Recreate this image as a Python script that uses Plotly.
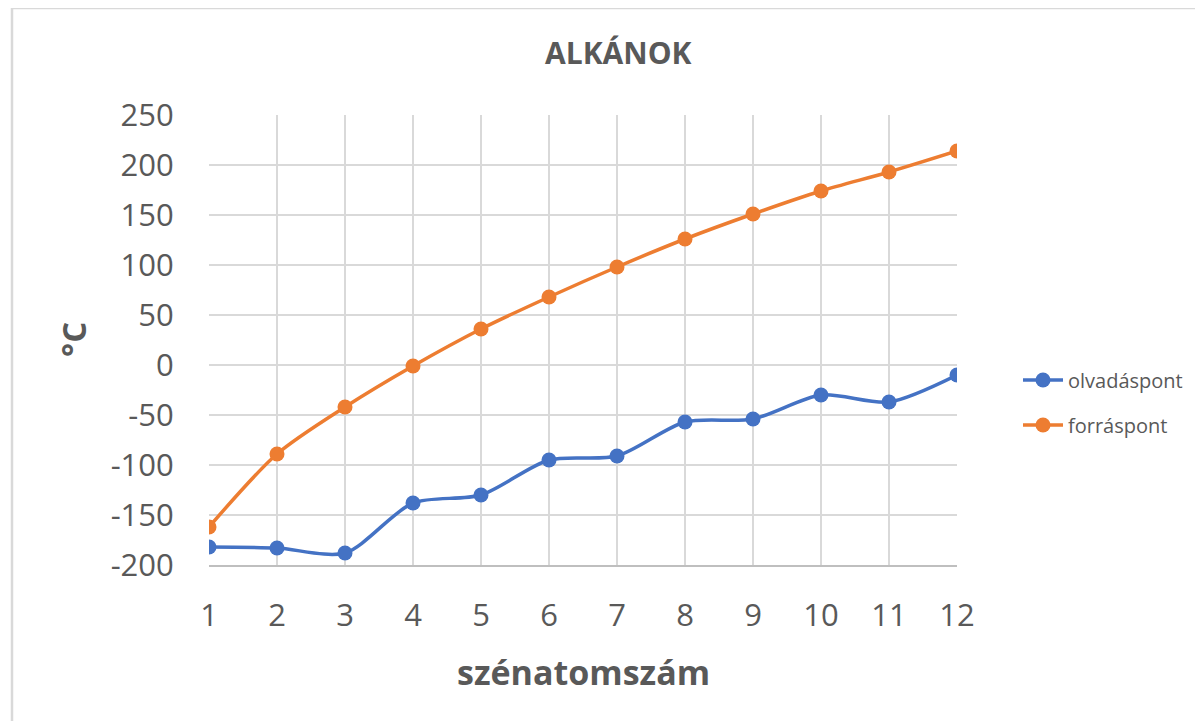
import plotly.graph_objects as go

carbon_atoms = [1, 2, 3, 4, 5, 6, 7, 8, 9, 10, 11, 12]
melting_point = [-182, -183, -188, -138, -130, -95, -91, -57, -54, -30, -37, -10]
boiling_point = [-162, -89, -42, -1, 36, 68, 98, 126, 151, 174, 193, 214]
y_ticks = [-200, -150, -100, -50, 0, 50, 100, 150, 200, 250]
y_tick_labels = ["-200", "-150", "-100", "-50", "0", "50", "100", "150", "200", "250"]

OFF = 8  # page body margin
W, H = 1203 - OFF, 721 - OFF
L, R, T, B = 209 - OFF, 957 - OFF, 115 - OFF, 565 - OFF
pw, ph = R - L, B - T

def px(x):
    return (x - OFF - L) / pw

def py(y):
    return (B - (y - OFF)) / ph

FONT = "Open Sans"
GRAY = "#595959"

fig = go.Figure()
fig.add_trace(go.Scatter(
    x=carbon_atoms, y=melting_point, name="olvadáspont", legend="legend",
    mode="lines+markers", line=dict(color="#4472C4", width=3.5, shape="spline", smoothing=0.8),
    marker=dict(size=15, color="#4472C4"),
))
fig.add_trace(go.Scatter(
    x=carbon_atoms, y=boiling_point, name="forráspont", legend="legend2",
    mode="lines+markers", line=dict(color="#ED7D31", width=3.5, shape="spline", smoothing=0.8),
    marker=dict(size=15, color="#ED7D31"),
))

leg_common = dict(xanchor="left", yanchor="middle",
                  font=dict(size=20, color=GRAY, family=FONT),
                  itemwidth=40, bgcolor="rgba(0,0,0,0)")

fig.update_layout(
    width=W, height=H,
    margin=dict(l=L, r=W - R, t=T, b=H - B),
    paper_bgcolor="white", plot_bgcolor="white",
    font=dict(family=FONT, color=GRAY),
    showlegend=True,
    legend=dict(x=px(1018), y=py(380), **leg_common),
    legend2=dict(x=px(1018), y=py(425), **leg_common),
    xaxis=dict(range=[1, 12], tickvals=carbon_atoms, showgrid=True, gridcolor="#d9d9d9",
               gridwidth=2, zeroline=False, showline=True, linecolor="#bfbfbf", linewidth=2,
               tickfont=dict(size=31, color=GRAY, family=FONT), ticks="outside",
               ticklen=22, tickcolor="rgba(0,0,0,0)"),
    yaxis=dict(range=[-200, 250], tickvals=y_ticks, ticktext=y_tick_labels, showgrid=True,
               gridcolor="#d9d9d9", gridwidth=2, zeroline=False, showline=False,
               tickfont=dict(size=31, color=GRAY, family=FONT), ticks="outside",
               ticklen=28, tickcolor="rgba(0,0,0,0)"),
    shapes=[dict(type="rect", xref="paper", yref="paper",
                 x0=px(12), x1=px(1220), y0=py(740), y1=py(8),
                 line=dict(color="#d9d9d9", width=2.5), fillcolor="rgba(0,0,0,0)", layer="below")],
    annotations=[
        dict(text="<b>ALKÁNOK</b>", xref="paper", yref="paper", x=px(618), y=py(52),
             xanchor="center", yanchor="middle", showarrow=False,
             font=dict(size=30, color=GRAY, family=FONT)),
        dict(text="<b>szénatomszám</b>", xref="paper", yref="paper", x=px(583), y=py(672),
             xanchor="center", yanchor="middle", showarrow=False,
             font=dict(size=34, color=GRAY, family=FONT)),
        dict(text="<b>°C</b>", xref="paper", yref="paper", x=px(73), y=py(340),
             xanchor="center", yanchor="middle", showarrow=False, textangle=-90,
             font=dict(size=33, color=GRAY, family=FONT)),
    ],
)

fig.write_html("out.html")
